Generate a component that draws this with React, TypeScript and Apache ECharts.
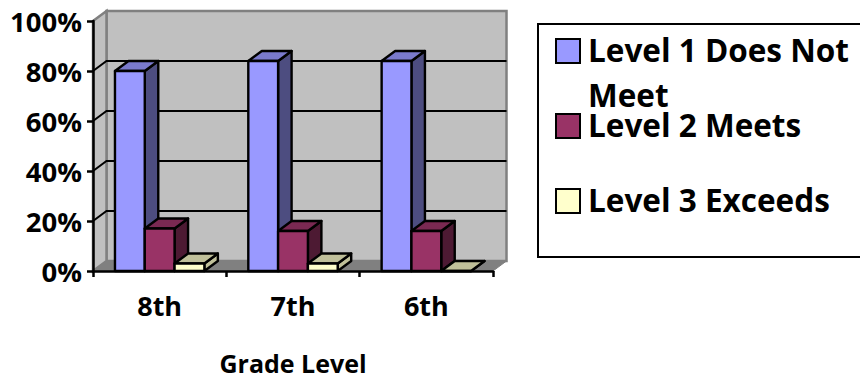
import React, { useEffect, useRef } from "react";
import * as echarts from "echarts";

const FONT = "'Open Sans', Carlito, Calibri, sans-serif";

const grades = ["8th", "7th", "6th"];
const level1 = [80, 84, 84];
const level2 = [17, 16, 16];
const level3 = [3, 3, 0];
const levelNames = ["Level 1 Does Not Meet", "Level 2 Meets", "Level 3 Exceeds"];
const legendLines = ["Level 1 Does Not", "Meet", "Level 2 Meets", "Level 3 Exceeds"];
const gridValues = [20, 40, 60, 80];

// Face colours per level: front, side, top.
const faces = [
  { front: "#9999ff", side: "#4d4d80", top: "#7a7acc" },
  { front: "#993366", side: "#4d1a33", top: "#7a2952" },
  { front: "#ffffcc", side: "#c0c09a", top: "#c0c09a" },
];

// Pseudo-3D depth of the plot box.
const DEPTH_X = 13.5;
const DEPTH_Y = 10;

// Vertical centres of the legend's text lines, which are unevenly spaced.
const LEGEND_LINE_Y = [49, 94, 124, 199];

const renderWalls = (params: any, api: any) => {
  const { x, y, width, height } = params.coordSys;
  const wallStyle = { fill: "#c0c0c0", stroke: "#808080", lineWidth: 2.5 };
  const children: any[] = [
    {
      type: "rect",
      shape: { x: x + DEPTH_X, y: y - DEPTH_Y, width, height },
      style: wallStyle,
    },
    {
      type: "polygon",
      shape: {
        points: [
          [x, y],
          [x + DEPTH_X, y - DEPTH_Y],
          [x + DEPTH_X, y + height - DEPTH_Y],
          [x, y + height],
        ],
      },
      style: wallStyle,
    },
    {
      type: "polygon",
      shape: {
        points: [
          [x, y + height],
          [x + DEPTH_X, y + height - DEPTH_Y],
          [x + width + DEPTH_X, y + height - DEPTH_Y],
          [x + width, y + height],
        ],
      },
      style: { fill: "#808080", stroke: "#808080", lineWidth: 1 },
    },
  ];
  gridValues.forEach((v) => {
    const py = api.coord([0, v])[1];
    children.push({
      type: "polyline",
      shape: {
        points: [
          [x, py],
          [x + DEPTH_X, py - DEPTH_Y],
          [x + width + DEPTH_X, py - DEPTH_Y],
        ],
      },
      style: { fill: "none", stroke: "#000", lineWidth: 2 },
    });
  });
  return { type: "group", children };
};

const makeBarRenderer = (level: number) => (_params: any, api: any) => {
  const [cx, top] = api.coord([api.value(0), api.value(1)]);
  const base = api.coord([api.value(0), 0])[1];
  const band = api.size([1, 0])[0];
  const barWidth = band * 0.2235;
  const left = cx + (level - 1.5) * barWidth;
  const right = left + barWidth;
  const color = faces[level];
  const edge = { stroke: "#000", lineWidth: 2.4, lineJoin: "round" };
  return {
    type: "group",
    children: [
      {
        type: "polygon",
        shape: {
          points: [
            [right, top],
            [right + DEPTH_X, top - DEPTH_Y],
            [right + DEPTH_X, base - DEPTH_Y],
            [right, base],
          ],
        },
        style: { fill: color.side, ...edge },
      },
      {
        type: "polygon",
        shape: {
          points: [
            [left, top],
            [left + DEPTH_X, top - DEPTH_Y],
            [right + DEPTH_X, top - DEPTH_Y],
            [right, top],
          ],
        },
        style: { fill: color.top, ...edge },
      },
      {
        type: "rect",
        shape: { x: left, y: top, width: barWidth, height: base - top },
        style: { fill: color.front, ...edge },
      },
    ],
  };
};

const toPoints = (values: number[]) => values.map((v, i) => [i, v]);

// Native legend supplies the swatches; the wrapped labels are drawn as graphic text.
const legendSwatch = (name: string, top: number) => ({
  show: true,
  data: [name],
  orient: "vertical" as const,
  left: 555,
  top,
  itemWidth: 24,
  itemHeight: 24,
  itemGap: 0,
  padding: 0,
  selectedMode: false,
  icon: "rect",
  itemStyle: { borderColor: "#000", borderWidth: 2 },
  formatter: () => "",
});

export default function App() {
  const ref = useRef<HTMLDivElement>(null);

  useEffect(() => {
    const chart = echarts.init(ref.current!, undefined, { renderer: "svg" });
    const series: any[] = [
      {
        type: "custom",
        silent: true,
        z: 1,
        data: [[0, 0]],
        renderItem: renderWalls,
      },
      ...[level1, level2, level3].map((values, level) => ({
        type: "custom",
        name: levelNames[level],
        z: 2 + level,
        itemStyle: { color: faces[level].front },
        encode: { x: 0, y: 1 },
        data: toPoints(values),
        renderItem: makeBarRenderer(level),
      })),
    ];
    chart.setOption({
      animation: false,
      backgroundColor: "#fff",
      grid: { left: 93, top: 21, width: 400, height: 250, containLabel: false, outerBoundsMode: "none" },
      xAxis: {
        type: "category",
        data: grades,
        z: 6,
        name: "Grade Level",
        nameLocation: "middle",
        nameGap: 80,
        nameTextStyle: { fontFamily: FONT, fontWeight: "bold", fontSize: 25, lineHeight: 24, color: "#000" },
        axisLine: { lineStyle: { color: "#000", width: 2.5 } },
        axisTick: { show: true, length: 6, alignWithLabel: false, lineStyle: { color: "#000", width: 2.5 } },
        axisLabel: { fontFamily: FONT, fontWeight: "bold", fontSize: 27, color: "#000", margin: 21 },
        splitLine: { show: false },
      },
      yAxis: {
        type: "value",
        min: 0,
        max: 100,
        interval: 20,
        z: 6,
        axisLine: { show: true, lineStyle: { color: "#000", width: 2.5 } },
        axisTick: { show: true, length: 6, lineStyle: { color: "#000", width: 2.5 } },
        axisLabel: {
          fontFamily: FONT,
          fontWeight: "bold",
          fontSize: 27.5,
          color: "#000",
          margin: 11,
          formatter: "{value}%",
        },
        splitLine: { show: false },
      },
      legend: [
        legendSwatch(levelNames[0], 38),
        legendSwatch(levelNames[1], 113),
        legendSwatch(levelNames[2], 188),
      ],
      graphic: [
        {
          type: "polyline",
          silent: true,
          z: -1,
          shape: {
            points: [
              [860, 24],
              [538, 24],
              [538, 257],
              [860, 257],
            ],
          },
          style: { fill: "none", stroke: "#000", lineWidth: 2 },
        },
        ...legendLines.map((line, i) => ({
          type: "text",
          silent: true,
          x: 588,
          y: LEGEND_LINE_Y[i],
          style: {
            text: line,
            fontFamily: FONT,
            fontWeight: "bold",
            fontSize: 31.5,
            lineHeight: 26,
            fill: "#000",
            verticalAlign: "middle",
          },
        })),
      ],
      series,
    });
    return () => chart.dispose();
  }, []);

  return (
    <div
      ref={ref}
      style={{ position: "absolute", left: 0, top: 0, width: 860, height: 376 }}
    />
  );
}
